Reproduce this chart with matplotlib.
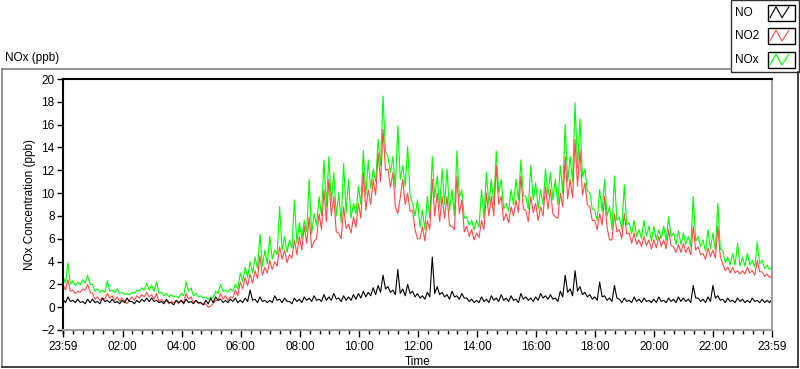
"""NOx / NO2 / NO daily trace in the look of a LabVIEW waveform chart."""
import numpy as np
import matplotlib
matplotlib.use("Agg")
import matplotlib.pyplot as plt
from matplotlib.patches import Rectangle
from matplotlib.lines import Line2D

W, H = 800, 369

SERIES = ["NO", "NO2", "NOx"]
COLORS = ["#000000", "#ff4b4b", "#00ff00"]

# (ppb). *_HI: band top at each 10-minute slot starting 23:59
# the day before; *_LO: band bottom 5 minutes later (the noisy trace swings between them).
NO_HI = [0.7, 0.9, 0.6, 0.7, 0.5, 0.7,
         0.7, 0.5, 0.8, 0.6, 0.7, 0.5,
         0.6, 0.8, 0.5, 0.6, 0.7, 0.8,
         0.8, 0.6, 0.5, 0.7, 0.4, 0.6,
         0.6, 0.7, 0.5, 0.6, 0.4, 0.6,
         0.8, 0.9, 0.7, 0.6, 0.7, 0.8,
         0.6, 0.8, 1.5, 0.7, 0.9, 0.6,
         0.6, 1.0, 0.7, 0.8, 0.5, 0.8,
         0.7, 0.9, 0.8, 1.0, 0.7, 1.1,
         0.9, 1.2, 0.8, 1.0, 0.9, 1.1,
         1.2, 1.4, 1.3, 1.7, 1.9, 2.8,
         1.8, 1.5, 3.3, 1.6, 2.0, 1.4,
         1.2, 1.0, 1.3, 4.4, 1.8, 1.3,
         1.1, 1.4, 1.0, 1.2, 0.8, 0.7,
         0.6, 0.9, 0.7, 1.0, 0.8, 1.1,
         0.8, 1.0, 0.7, 1.2, 0.9, 0.8,
         0.9, 1.2, 1.0, 1.1, 0.8, 1.4,
         2.8, 1.6, 3.2, 1.8, 1.3, 1.1,
         0.9, 2.2, 1.0, 0.8, 1.9, 0.7,
         0.8, 0.6, 0.9, 0.7, 0.8, 0.6,
         0.7, 0.9, 0.6, 0.8, 0.7, 0.9,
         0.8, 0.7, 1.9, 0.8, 0.7, 0.9,
         1.9, 1.0, 0.7, 0.8, 0.6, 0.8,
         0.7, 0.6, 0.8, 0.6, 0.7, 0.6,
         0.7]
NO_LO = [0.4, 0.5, 0.4, 0.4, 0.3, 0.4,
         0.4, 0.3, 0.5, 0.4, 0.4, 0.3,
         0.4, 0.5, 0.3, 0.4, 0.5, 0.5,
         0.5, 0.4, 0.3, 0.4, 0.2, 0.4,
         0.3, 0.4, 0.3, 0.4, 0.2, 0.3,
         0.4, 0.6, 0.4, 0.4, 0.5, 0.4,
         0.4, 0.5, 0.6, 0.4, 0.5, 0.4,
         0.4, 0.6, 0.4, 0.5, 0.3, 0.5,
         0.4, 0.6, 0.5, 0.6, 0.5, 0.6,
         0.6, 0.7, 0.5, 0.6, 0.6, 0.7,
         0.8, 0.9, 1.0, 1.1, 1.3, 1.6,
         1.3, 1.1, 1.2, 1.0, 1.2, 0.9,
         0.8, 0.7, 0.9, 1.2, 1.1, 0.9,
         0.7, 0.9, 0.7, 0.8, 0.5, 0.4,
         0.4, 0.5, 0.4, 0.6, 0.5, 0.6,
         0.5, 0.6, 0.4, 0.7, 0.6, 0.5,
         0.6, 0.8, 0.7, 0.7, 0.5, 0.9,
         1.3, 1.0, 1.4, 1.1, 0.9, 0.7,
         0.6, 0.9, 0.6, 0.5, 0.8, 0.4,
         0.5, 0.4, 0.5, 0.4, 0.5, 0.4,
         0.4, 0.5, 0.4, 0.5, 0.4, 0.5,
         0.5, 0.4, 0.8, 0.5, 0.4, 0.5,
         0.8, 0.6, 0.4, 0.5, 0.4, 0.5,
         0.4, 0.4, 0.5, 0.4, 0.4, 0.4]
NO2_HI = [2.0, 2.4, 1.5, 1.4, 1.6, 2.0,
          1.2, 0.9, 0.8, 1.2, 1.0, 0.9,
          0.8, 0.3, 0.9, 1.0, 1.1, 1.3,
          1.1, 1.2, 0.7, 0.6, 0.5, 0.6,
          0.6, 1.2, 0.9, 0.6, 0.4, 0.3,
          0.1, 0.6, 1.2, 1.0, 0.9, 1.5,
          2.2, 2.6, 2.9, 3.2, 4.5, 3.5,
          4.1, 4.0, 5.3, 5.0, 4.6, 5.9,
          6.2, 7.1, 7.9, 5.8, 8.2, 10.3,
          11.2, 9.7, 6.5, 8.8, 7.3, 7.9,
          9.1, 11.8, 10.3, 11.2, 13.5, 15.6,
          12.1, 11.8, 8.2, 11.2, 10.0, 8.5,
          6.0, 7.1, 7.6, 11.2, 10.0, 9.7,
          9.7, 7.1, 11.5, 9.4, 7.1, 6.8,
          6.5, 7.6, 10.0, 9.7, 12.4, 9.7,
          8.2, 8.8, 9.4, 11.5, 8.5, 9.7,
          9.1, 8.8, 10.6, 10.3, 7.9, 10.0,
          13.2, 11.2, 14.7, 13.8, 10.9, 8.8,
          7.6, 8.2, 9.7, 5.9, 8.2, 6.8,
          8.2, 6.5, 6.5, 5.9, 6.2, 5.9,
          5.9, 6.2, 5.9, 6.8, 5.3, 5.5,
          5.6, 5.3, 7.1, 5.3, 4.7, 5.2,
          5.0, 7.1, 3.8, 3.5, 3.5, 3.2,
          3.2, 3.5, 3.2, 4.1, 3.1, 2.9,
          2.8]
NO2_LO = [1.5, 1.4, 1.2, 1.3, 1.5, 1.3,
          0.7, 0.6, 0.7, 0.8, 0.6, 0.5,
          0.5, 0.6, 0.6, 0.8, 0.9, 0.9,
          0.7, 0.5, 0.4, 0.3, 0.4, 0.3,
          0.4, 0.7, 0.4, 0.3, 0.2, 0.0,
          0.3, 0.6, 0.7, 0.6, 0.8, 1.0,
          1.6, 1.9, 2.1, 2.5, 2.8, 3.0,
          3.3, 3.6, 4.2, 3.9, 4.3, 4.6,
          5.0, 5.6, 5.2, 6.0, 6.8, 7.5,
          8.0, 6.6, 6.0, 6.9, 6.5, 7.0,
          7.8, 8.5, 9.0, 9.8, 11.0, 12.0,
          10.5, 8.8, 9.6, 9.0, 8.4, 6.8,
          6.0, 5.8, 6.8, 8.0, 7.5, 7.8,
          7.2, 6.8, 8.2, 6.6, 6.2, 5.9,
          6.1, 6.8, 8.0, 8.0, 9.0, 7.6,
          7.4, 8.0, 8.3, 8.6, 7.5, 8.3,
          7.6, 8.0, 8.6, 8.2, 7.8, 8.8,
          9.5, 9.6, 10.6, 9.8, 9.0, 7.6,
          6.8, 7.2, 7.0, 5.9, 6.6, 6.0,
          6.4, 5.6, 5.5, 5.3, 5.4, 5.1,
          5.2, 5.3, 5.1, 5.4, 4.8, 4.8,
          4.8, 4.6, 5.0, 4.6, 4.2, 4.4,
          4.3, 4.4, 3.2, 3.0, 3.0, 2.9,
          2.9, 3.0, 2.8, 3.1, 2.7, 2.6]
NOX_HI = [2.7, 3.9, 2.3, 2.2, 2.4, 2.8,
          2.0, 1.6, 1.5, 2.3, 1.5, 1.6,
          1.3, 1.2, 1.3, 1.5, 1.7, 2.1,
          1.9, 2.2, 1.3, 1.2, 1.1, 1.0,
          1.2, 2.2, 1.7, 1.2, 1.0, 0.9,
          0.9, 1.4, 2.0, 1.5, 1.6, 2.0,
          3.0, 3.5, 4.0, 4.4, 6.4, 5.0,
          6.2, 5.0, 8.8, 6.2, 5.9, 9.4,
          7.4, 7.6, 11.2, 8.2, 9.7, 12.9,
          13.2, 11.8, 10.0, 12.6, 11.2, 9.1,
          10.6, 13.7, 12.9, 12.1, 14.7, 18.5,
          13.2, 13.2, 15.9, 12.4, 14.1, 9.1,
          9.4, 8.5, 9.7, 13.2, 11.5, 12.1,
          12.1, 10.3, 13.7, 10.3, 7.9, 7.6,
          7.6, 10.3, 11.8, 11.2, 13.7, 11.2,
          9.1, 10.3, 11.2, 12.9, 9.7, 12.4,
          10.9, 10.3, 12.1, 11.8, 11.2, 12.4,
          16.0, 13.2, 17.9, 16.5, 12.1, 10.0,
          8.5, 10.3, 11.2, 8.8, 11.5, 7.9,
          10.7, 7.4, 7.6, 6.8, 7.6, 7.1,
          7.1, 6.8, 7.1, 7.9, 6.5, 6.7,
          6.5, 6.2, 9.7, 6.2, 5.9, 6.8,
          6.5, 9.1, 5.0, 4.4, 4.7, 5.6,
          4.4, 4.7, 4.1, 5.7, 4.1, 3.7,
          3.5]
NOX_LO = [2.1, 2.0, 1.9, 2.0, 2.1, 2.0,
          1.4, 1.3, 1.3, 1.4, 1.3, 1.2,
          1.1, 1.1, 1.2, 1.4, 1.5, 1.5,
          1.4, 1.2, 1.0, 0.9, 0.9, 0.8,
          1.0, 1.4, 1.0, 0.9, 0.8, 0.7,
          0.8, 1.2, 1.4, 1.3, 1.4, 1.6,
          2.2, 2.6, 3.0, 3.4, 3.6, 3.8,
          4.2, 4.6, 5.0, 4.8, 5.2, 5.6,
          6.0, 6.6, 6.4, 7.2, 8.0, 8.8,
          9.2, 8.0, 7.4, 8.2, 7.8, 8.2,
          9.0, 9.8, 10.4, 11.0, 12.4, 13.6,
          11.8, 10.4, 11.2, 10.6, 9.8, 8.0,
          7.0, 6.8, 7.8, 9.6, 8.8, 9.0,
          8.4, 8.0, 9.6, 7.8, 7.2, 6.8,
          7.0, 7.8, 9.0, 9.0, 10.0, 8.6,
          8.4, 9.0, 9.4, 9.8, 8.6, 9.4,
          8.6, 9.0, 9.8, 9.4, 9.0, 10.0,
          11.0, 11.0, 12.2, 11.4, 10.2, 8.6,
          7.6, 8.4, 8.0, 6.8, 7.6, 6.8,
          7.2, 6.4, 6.2, 6.0, 6.2, 5.8,
          5.9, 6.0, 5.8, 6.2, 5.5, 5.5,
          5.5, 5.3, 5.8, 5.3, 4.9, 5.1,
          5.0, 5.1, 3.9, 3.7, 3.7, 3.6,
          3.6, 3.7, 3.5, 3.8, 3.4, 3.3]

# minutes after 23:59 where the time labels sit
TICK_MIN = [0, 121, 241, 361, 481, 601, 721, 841, 961, 1081, 1201, 1321, 1440]
TICK_LBL = ["23:59", "02:00", "04:00", "06:00", "08:00", "10:00", "12:00",
            "14:00", "16:00", "18:00", "20:00", "22:00", "23:59"]
Y_TICKS = list(range(-2, 21, 2))

plt.rcParams["font.family"] = ["Liberation Sans", "DejaVu Sans"]
plt.rcParams["font.size"] = 8.5


def fx(x):
    return x / W


def fy(y):
    return 1 - y / H


def trace(hi, lo):
    """Merge band tops (on the 10-min slots) and bottoms (5 min later) into one trace."""
    t = np.arange(len(hi) + len(lo)) * 5
    v = np.empty(len(t))
    v[0::2] = hi
    v[1::2] = lo
    return t, v


fig = plt.figure(figsize=(W / 100, H / 100), dpi=100)
fig.patch.set_facecolor("white")

# sunken outer frame of the graph panel
frame = [((2, 69), (731, 69), "#808080"), ((2, 69), (2, 367), "#808080"),
         ((2, 367), (798, 367), "#202020"), ((798, 72), (798, 367), "#202020")]
for (x0, y0), (x1, y1), c in frame:
    fig.add_artist(Line2D([fx(x0), fx(x1)], [fy(y0), fy(y1)], color=c, lw=1.2))
fig.text(fx(5), fy(58), "NOx (ppb)", ha="left", va="center", fontsize=8.5)

ax = fig.add_axes([fx(63), fy(330), (772 - 63) / W, (330 - 79) / H])
data = [trace(NO_HI, NO_LO), trace(NO2_HI, NO2_LO), trace(NOX_HI, NOX_LO)]
for (t, v), name, c in reversed(list(zip(data, SERIES, COLORS))):
    ax.plot(t, v, color=c, lw=0.8, label=name)

ax.set_xlim(0, 1440)
ax.set_ylim(-2, 20)
ax.set_xticks(TICK_MIN)
ax.set_xticklabels(TICK_LBL)
ax.set_xticks(np.arange(1, 1440, 20), minor=True)
ax.set_yticks(Y_TICKS)
ax.tick_params(axis="x", which="major", length=5, width=1, pad=3)
ax.tick_params(axis="x", which="minor", length=3, width=1)
ax.tick_params(axis="y", length=4, width=1, pad=2)
for side in ("left", "top"):
    ax.spines[side].set_color("black")
    ax.spines[side].set_linewidth(1.5)
for side in ("right", "bottom"):
    ax.spines[side].set_color("#a0a0a0")
    ax.spines[side].set_linewidth(1.5)
ax.set_xlabel("Time", labelpad=2)
ax.set_ylabel("NOx Concentration (ppb)", labelpad=4)

# legend panel in the top right corner
fig.add_artist(Rectangle((fx(731), fy(72)), fx(799) - fx(731), fy(0) - fy(72),
                         facecolor="white", edgecolor="#303030", lw=1.0))
rows = [12.7, 36, 60]
for name, c, yc in zip(SERIES, COLORS, rows):
    fig.text(fx(735), fy(yc), name, ha="left", va="center", fontsize=8.5)
    fig.add_artist(Rectangle((fx(768), fy(yc + 8)), fx(795) - fx(768), fy(yc - 8) - fy(yc + 8),
                             facecolor="white", edgecolor="black", lw=1.0))
    zx = [770, 776, 782, 789]
    zy = [yc + 5, yc - 6, yc + 5, yc - 6]
    fig.add_artist(Line2D([fx(v) for v in zx], [fy(v) for v in zy], color=c, lw=0.8))

fig.savefig("out.png", dpi=100)
